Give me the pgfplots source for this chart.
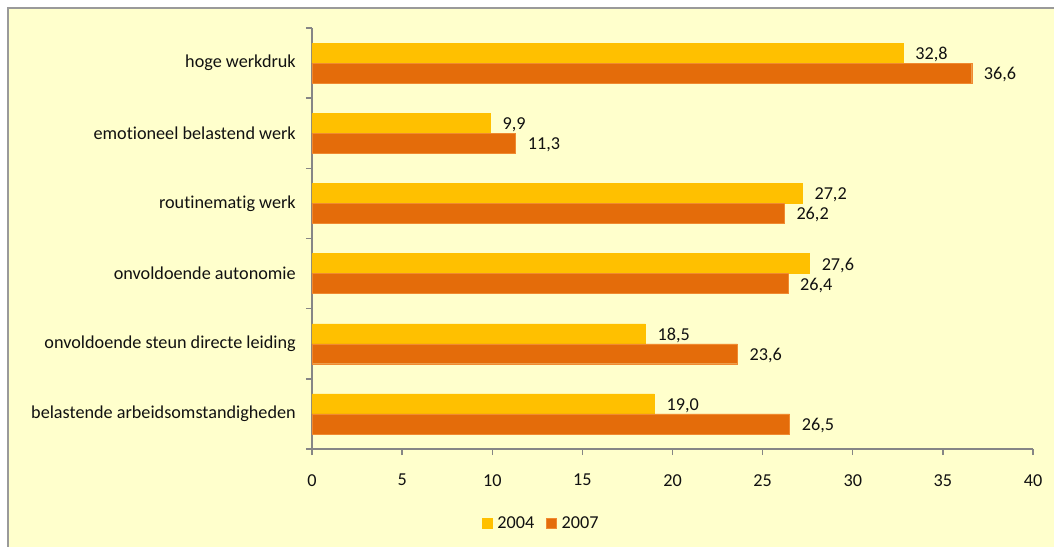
\documentclass[border=0pt]{standalone}
\usepackage{fontspec}
\setmainfont{Carlito}[Ligatures={NoCommon}]
\usepackage{pgfplots}
\pgfplotsset{compat=1.18}
\definecolor{bgy}{HTML}{FFFFCC}
\definecolor{frame}{HTML}{9A9A9A}
\definecolor{axgray}{HTML}{868686}
\definecolor{y04}{HTML}{FFC000}
\definecolor{y07}{HTML}{E46C0A}
\definecolor{y07e}{HTML}{F08A30}
\definecolor{txt}{HTML}{111111}
\begin{document}
\fontsize{18.2bp}{21bp}\selectfont
\begin{tikzpicture}
\path[use as bounding box] (-312bp,-98bp) rectangle (742bp,449bp);
\fill[white] (-312bp,-98bp) rectangle (742bp,449bp);
\fill[bgy] (-304bp,-98bp) rectangle (742bp,441bp);
\draw[frame,line width=1.5bp] (-304bp,-98bp) -- (-304bp,441bp) -- (742bp,441bp);
\begin{axis}[
  at={(0,0)}, anchor=south west,
  scale only axis, width=721bp, height=421bp,
  xbar, bar width=0.285,
  xmin=0, xmax=40, ymin=-0.5, ymax=5.5,
  axis x line*=bottom, axis y line*=left,
  axis line style={axgray, line width=1.4bp},
  xtick={0,5,...,40},
  ytick={-0.5,0.5,1.5,2.5,3.5,4.5,5.5},
  yticklabels={},
  extra y ticks={0,1,2,3,4,5},
  extra y tick labels={belastende arbeidsomstandigheden, onvoldoende steun directe leiding, onvoldoende autonomie, routinematig werk, emotioneel belastend werk, hoge werkdruk},
  extra y tick style={major tick length=0pt},
  tick align=outside,
  major tick length=6bp,
  every tick/.style={axgray, line width=1.4bp},
  tick label style={font=\fontsize{18.2bp}{21bp}\selectfont, text=txt},
  /pgf/number format/assume math mode=true,
  xticklabel style={yshift=-13bp},
  yticklabel style={xshift=-10bp},
  nodes near coords,
  nodes near coords style={font=\fontsize{18.2bp}{21bp}\selectfont, text=txt, xshift=6bp, yshift=-1.5bp,
    /pgf/number format/.cd, fixed, fixed zerofill, precision=1, use comma},
  legend style={at={(0.318,-0.178)}, anchor=center, draw=none, fill=none,
    legend columns=2, font=\fontsize{18.2bp}{21bp}\selectfont, text=txt,
    /tikz/every odd column/.append style={column sep=3bp},
    /tikz/every even column/.append style={column sep=10bp}},
  legend image code/.code={\fill[#1] (0bp,-4bp) rectangle (10bp,6bp);},
]
\addplot[fill=y04, draw=y04, bar shift=0.1425] coordinates {
  (19.0,0) (18.5,1) (27.6,2) (27.2,3) (9.9,4) (32.8,5)};
\addplot[fill=y07, draw=y07e, bar shift=-0.1425] coordinates {
  (26.5,0) (23.6,1) (26.4,2) (26.2,3) (11.3,4) (36.6,5)};
\legend{2004,2007}
\end{axis}
\end{tikzpicture}
\end{document}
